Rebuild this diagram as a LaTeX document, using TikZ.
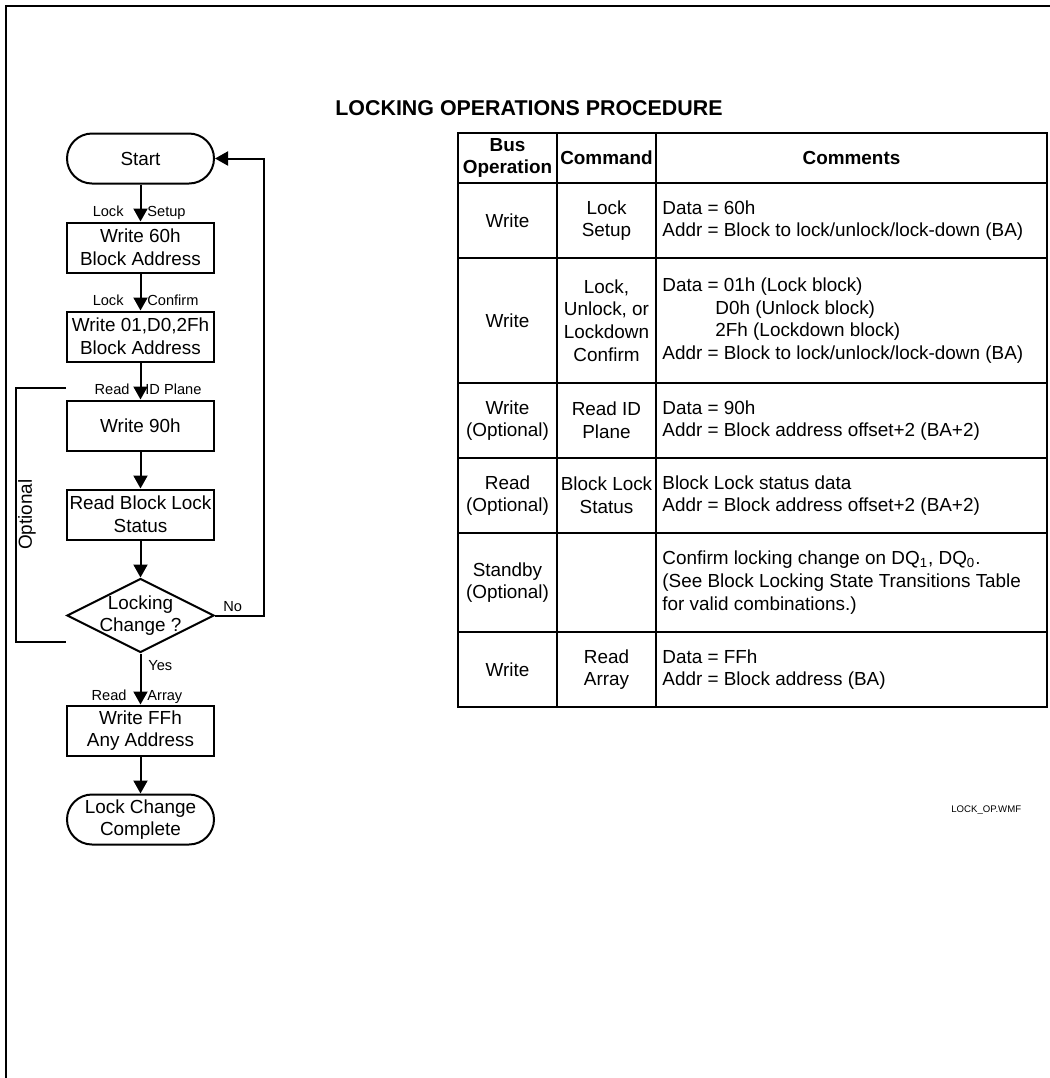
\documentclass[tikz,border=0pt]{standalone}
\usepackage{fontspec}
\setmainfont{Liberation Sans}
\usetikzlibrary{arrows.meta, positioning, shapes.geometric}

\begin{document}
\begin{tikzpicture}[
  x=0.5pt, y=-0.5pt,
  every node/.style={font=\fontsize{9.45}{11.3}\selectfont},
  fc/.style={draw, line width=1pt, minimum width=73.5pt, minimum height=25pt, align=center, inner sep=1pt},
  term/.style={fc, rounded corners=12.5pt},
  cond/.style={draw, line width=1pt, diamond, aspect=2, minimum width=73.5pt, minimum height=37pt, inner sep=0pt},
  lbl/.style={font=\fontsize{7.3}{8.5}\selectfont, inner sep=0pt},
  cell/.style={align=center, inner sep=0pt},
  head/.style={cell, font=\fontsize{9.45}{11.3}\selectfont\bfseries},
  note/.style={align=left, inner sep=0pt, anchor=west},
  grid/.style={line width=1pt},
  flow/.style={line width=1pt, -{Triangle[length=6.5pt, width=7pt]}},
  node distance=18.5pt
]
  \useasboundingbox (0,0) rectangle (1050,1078);
  \draw[line width=1.3pt] (6,1078) -- (6,6) -- (1050,6);

  % flow chart
  \node[term] (start) at (140.5,158.5) {Start};
  \node[fc, below=of start] (setup) {Write 60h\\Block Address};
  \node[fc, below=of setup] (confirm) {Write 01,D0,2Fh\\Block Address};
  \node[fc, below=of confirm] (idplane) {Write 90h};
  \node[fc, below=of idplane] (status) {Read Block Lock\\Status};
  \node[cond, below=of status] (change) {};
  \node[cell] (changetxt) at (change) {Locking\\Change ?};
  \node[fc, below=25.5pt of change] (array) {Write FFh\\Any Address};
  \node[term, below=of array] (done) {Lock Change\\Complete};

  \foreach \a/\b in {start/setup, setup/confirm, confirm/idplane, idplane/status, status/change, change/array, array/done}
    \draw[flow] (\a) -- (\b);
  \draw[flow] (change.east) -- ++(49,0) |- (start.east);

  % command labels on the arrows
  \node[lbl, anchor=base east] (setupL) at ([xshift=-8.25pt, yshift=2.5pt]setup.north) {Lock};
  \node[lbl, anchor=base west] (setupR) at ([xshift=3.25pt, yshift=2.5pt]setup.north) {Setup};
  \node[lbl, anchor=base east] (confirmL) at ([xshift=-8.25pt, yshift=2.5pt]confirm.north) {Lock};
  \node[lbl, anchor=base west] (confirmR) at ([xshift=3.25pt, yshift=2.5pt]confirm.north) {Confirm};
  \node[lbl, anchor=base east] (idplaneL) at ([xshift=-5.25pt, yshift=2.5pt]idplane.north) {Read};
  \node[lbl, anchor=base west] (idplaneR) at ([xshift=2.25pt, yshift=2.5pt]idplane.north) {ID Plane};
  \node[lbl, anchor=base east] (arrayL) at ([xshift=-6.75pt, yshift=2pt]array.north) {Read};
  \node[lbl, anchor=base west] (arrayR) at ([xshift=3.25pt, yshift=2pt]array.north) {Array};
  \node[lbl, anchor=base west] (no) at ([xshift=4pt, yshift=2pt]change.east) {No};
  \node[lbl, anchor=base west] (yes) at ([xshift=3.75pt, yshift=-8.5pt]change.south) {Yes};

  % optional bracket
  \draw[grid] ([yshift=6pt]idplane.north west) -- ++(-50,0) |- ([yshift=-13pt]change.west);
  \node[inner sep=0pt, rotate=90] (opt) at ([xshift=-19.5pt]status.west) {Optional};

  % table
  \node[font=\fontsize{10.7}{12}\selectfont\bfseries, inner sep=0pt, anchor=base west] (title) at (335,115) {LOCKING OPERATIONS PROCEDURE};
  \draw[grid] (458,133) rectangle (1047,707);
  \foreach \y in {183,258,383,458,533,632}
    \draw[grid] (458,\y) -- (1047,\y);
  \foreach \x in {557,656}
    \draw[grid] (\x,133) -- (\x,707);

  \node[head] (hBus) at (507.5,158) {Bus\\Operation};
  \node[head] (hCmd) at (606.5,158) {Command};
  \node[head] (hCom) at (851.5,158) {Comments};

  \node[cell] (op1) at (507.5,220.5) {Write};
  \node[cell] (cmd1) at (606.5,220.5) {Lock\\Setup};
  \node[note] (com1) at (662,220.5) {Data = 60h\\Addr = Block to lock/unlock/lock-down (BA)};

  \node[cell] (op2) at (507.5,320.5) {Write};
  \node[cell] (cmd2) at (606.5,320.5) {Lock,\\Unlock, or\\Lockdown\\Confirm};
  \node[note] (com2) at (662,320.5) {Data = 01h (Lock block)\\\hspace*{26.5pt}D0h (Unlock block)\\\hspace*{26.5pt}2Fh (Lockdown block)\\Addr = Block to lock/unlock/lock-down (BA)};

  \node[cell] (op3) at (507.5,420.5) {Write\\(Optional)};
  \node[cell] (cmd3) at (606.5,420.5) {Read ID\\Plane};
  \node[note] (com3) at (662,420.5) {Data = 90h\\Addr = Block address offset+2 (BA+2)};

  \node[cell] (op4) at (507.5,495.5) {Read\\(Optional)};
  \node[cell] (cmd4) at (606.5,495.5) {Block Lock\\Status};
  \node[note] (com4) at (662,495.5) {Block Lock status data\\Addr = Block address offset+2 (BA+2)};

  \node[cell] (op5) at (507.5,582.5) {Standby\\(Optional)};
  \node[note] (com5) at (662,582.5) {Confirm locking change on DQ\textsubscript{1}, DQ\textsubscript{0}.\\(See Block Locking State Transitions Table\\for valid combinations.)};

  \node[cell] (op6) at (507.5,669.5) {Write};
  \node[cell] (cmd6) at (606.5,669.5) {Read\\Array};
  \node[note] (com6) at (662,669.5) {Data = FFh\\Addr = Block address (BA)};

  \node[font=\fontsize{4.8}{6}\selectfont, inner sep=0pt, anchor=base west] (fname) at (951,812) {LOCK\_OP.WMF};
\end{tikzpicture}
\end{document}
